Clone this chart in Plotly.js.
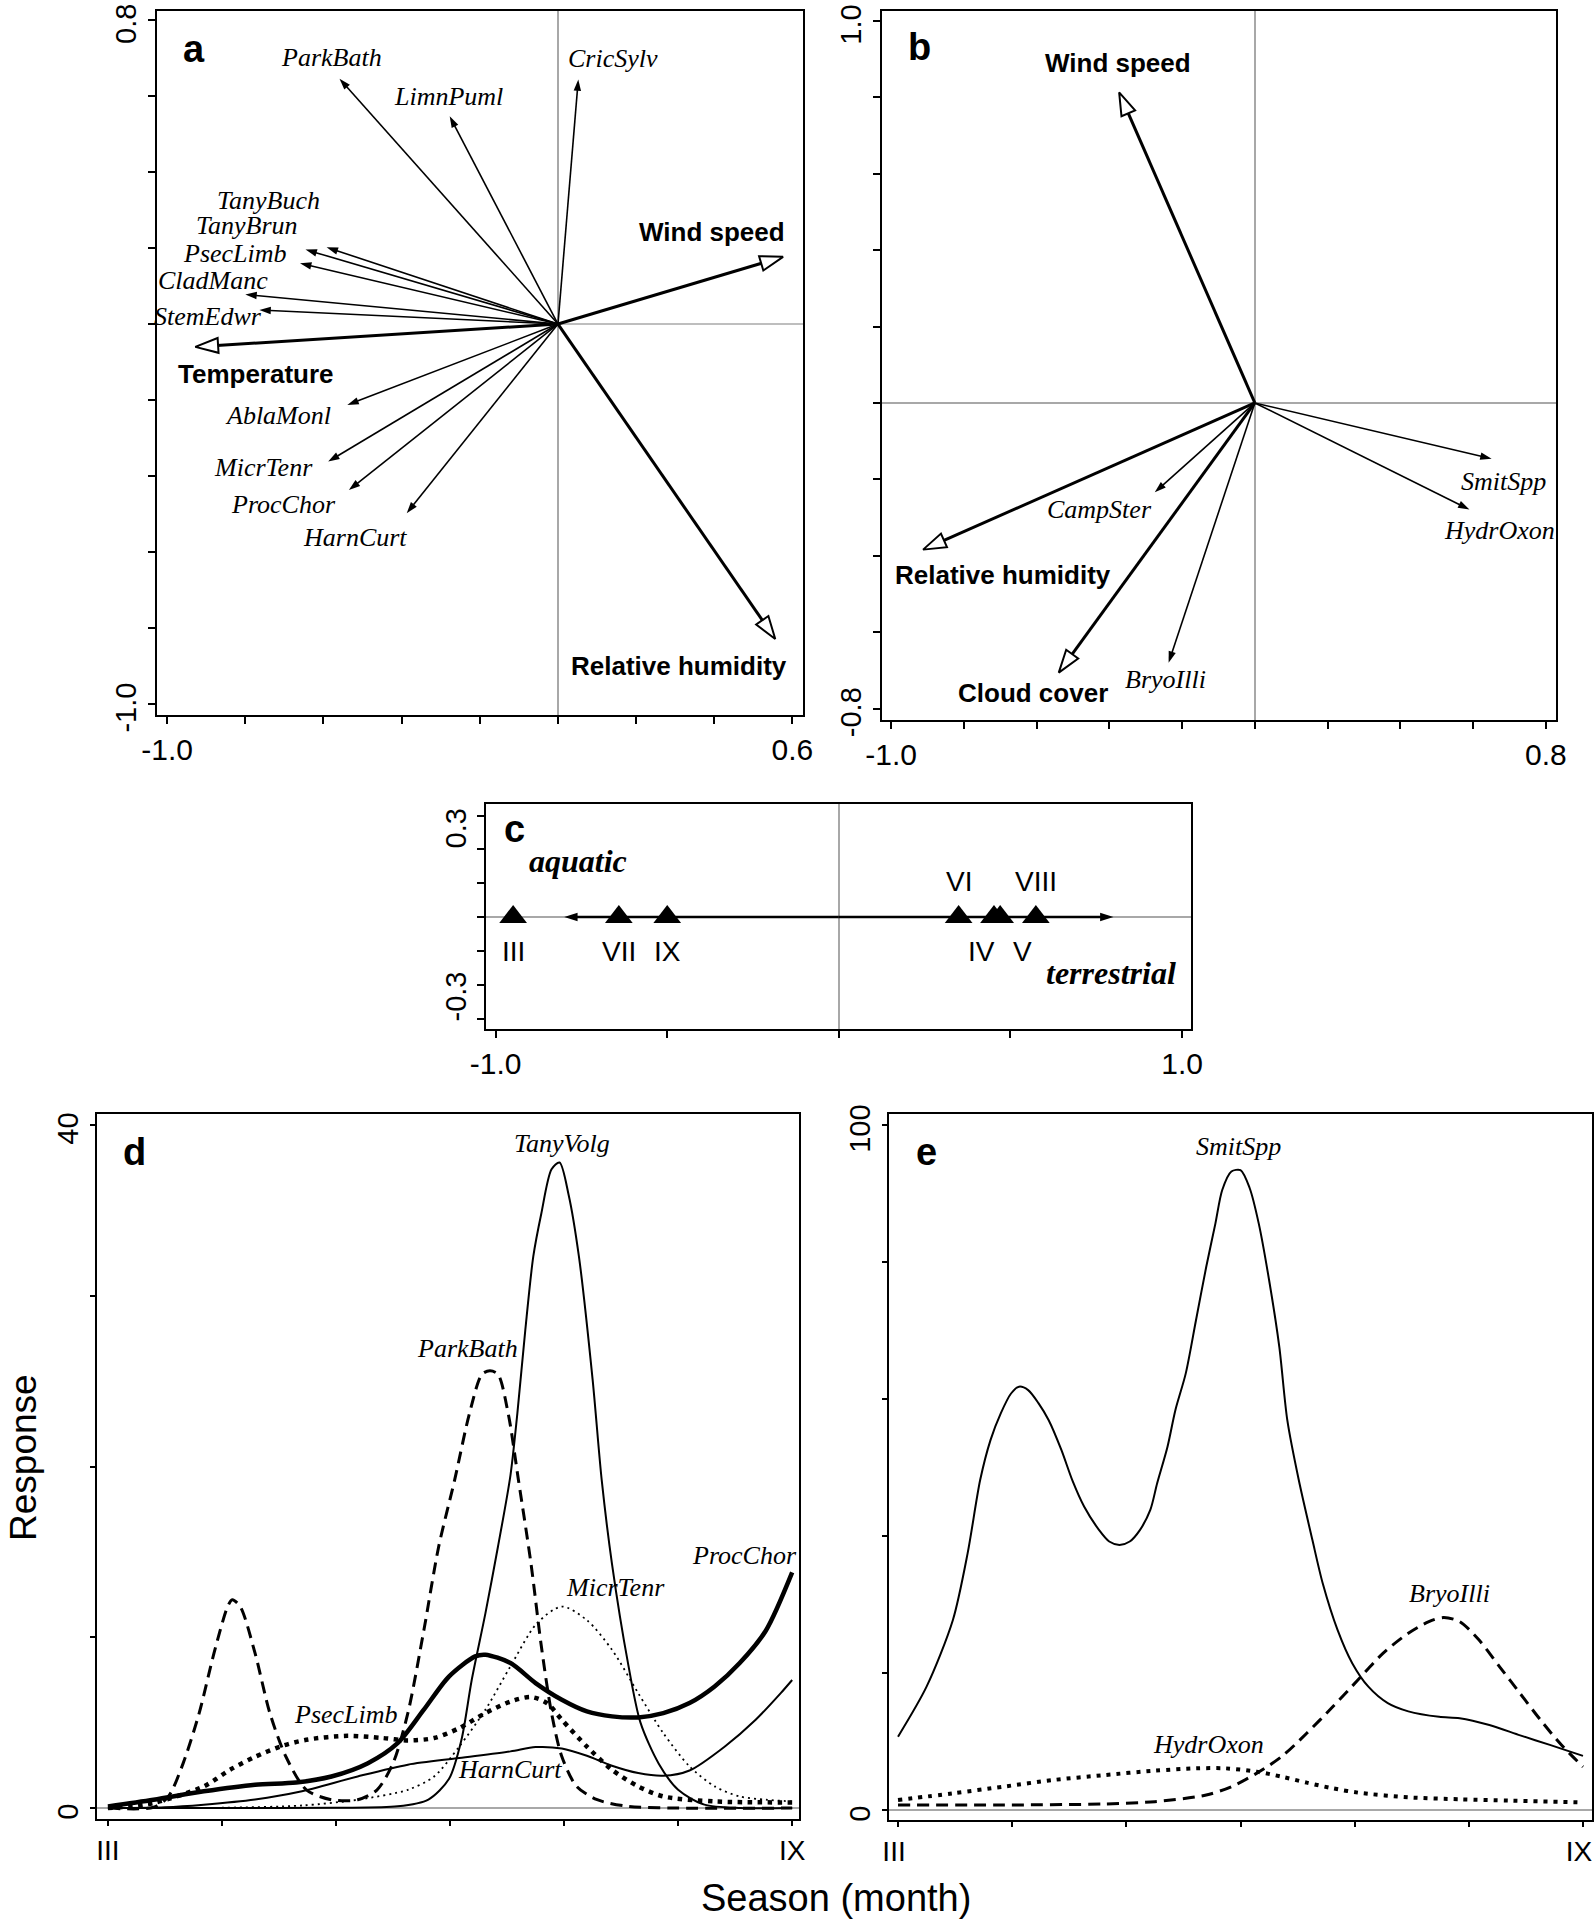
<!DOCTYPE html>
<html><head><meta charset="utf-8">
<script src="https://cdn.plot.ly/plotly-3.0.1.min.js"></script>
<style>html,body{margin:0;padding:0;background:#fff;}#chart{width:1595px;height:1924px;}</style>
</head><body><div id="chart"></div>
<script>
// ---------------- DATA ----------------
// Panel a: species and environmental biplot scores
const aSpecies  = ['ParkBath','LimnPuml','CricSylv','TanyBuch','TanyBrun','PsecLimb','CladManc','StemEdwr','AblaMonl','MicrTenr','ProcChor','HarnCurt'];
const aSpeciesX = [-0.559,-0.277,0.052,-0.592,-0.646,-0.660,-0.800,-0.764,-0.539,-0.588,-0.535,-0.387];
const aSpeciesY = [0.646,0.547,0.644,0.202,0.196,0.160,0.078,0.037,-0.213,-0.362,-0.437,-0.498];
const aEnv  = ['Wind speed','Temperature','Relative humidity'];
const aEnvX = [0.576,-0.928,0.556];
const aEnvY = [0.177,-0.060,-0.829];

// Panel b
const bSpecies  = ['CampSter','BryoIlli','SmitSpp','HydrOxon'];
const bSpeciesX = [-0.275,-0.237,0.651,0.590];
const bSpeciesY = [-0.234,-0.680,-0.146,-0.279];
const bEnv  = ['Wind speed','Relative humidity','Cloud cover'];
const bEnvX = [-0.373,-0.912,-0.539];
const bEnvY = [0.813,-0.384,-0.706];

// Panel c: sample (month) scores on the single axis
const cMonths = ['III','VII','IX','VI','IV','V','VIII'];
const cScores = [-0.949,-0.641,-0.500,0.349,0.452,0.470,0.574];
const cGradientEnds   = [-0.8, 0.8];
const cGradientLabels = ['aquatic','terrestrial'];

// Panel d: response curves over season (month number 3..9)
const dTanyVolgX = [3.0,4.0,5.0,5.54,5.81,5.99,6.10,6.19,6.31,6.42,6.53,6.59,6.66,6.73,6.80,6.89,6.96,7.04,7.13,7.25,7.33,7.42,7.56,7.67,7.83,8.00,8.23,8.55,9.0];
const dTanyVolgY = [0,0,0.02,0.1,0.5,1.7,4.0,7.5,11.4,15.3,19.5,23.1,28.0,32.3,34.8,37.4,37.8,35.9,32.3,25.1,19.2,14.3,8.5,5.0,2.6,1.07,0.2,0,0];
const dParkBathX = [3.0,3.4,3.53,3.66,3.80,3.93,4.05,4.09,4.16,4.29,4.42,4.56,4.74,4.96,5.19,5.36,5.50,5.63,5.77,5.90,6.04,6.17,6.28,6.35,6.42,6.51,6.60,6.71,6.80,6.89,6.98,7.11,7.29,7.56,8.0,9.0];
const dParkBathY = [0,0.05,0.68,2.63,5.56,9.07,11.8,12.2,11.8,9.07,5.56,3.02,1.07,0.49,0.49,1.07,2.63,5.56,10.4,15.3,19.2,23.1,25.4,25.6,25.4,23.1,19.2,14.3,9.5,5.56,3.02,1.27,0.49,0.1,0,0];
const dProcChorX = [3.0,3.4,3.84,4.29,4.65,4.96,5.28,5.54,5.77,5.99,6.22,6.31,6.53,6.75,6.98,7.20,7.42,7.65,7.87,8.10,8.32,8.54,8.77,9.0];
const dProcChorY = [0.1,0.49,0.98,1.37,1.5,1.85,2.63,3.8,5.76,7.7,8.88,8.98,8.49,7.32,6.34,5.66,5.37,5.31,5.56,6.15,7.12,8.49,10.4,13.8];
const dHarnCurtX = [3.0,3.5,3.84,4.29,4.68,5.19,5.63,6.08,6.53,6.75,6.98,7.20,7.42,7.65,7.87,8.10,8.41,8.68,8.90,9.0];
const dHarnCurtY = [0,0.05,0.2,0.5,0.95,1.85,2.54,2.93,3.32,3.57,3.49,3.06,2.48,2.05,1.89,2.2,3.61,5.17,6.73,7.5];
const dMicrTenrX = [3.0,4.0,4.7,5.19,5.63,5.86,6.08,6.31,6.53,6.76,6.98,7.20,7.42,7.65,7.87,8.10,8.32,8.54,8.77,9.0];
const dMicrTenrY = [0,0.02,0.15,0.49,1.07,1.85,3.6,5.76,8.3,10.8,11.8,11.0,9.27,6.73,4.39,2.44,1.27,0.68,0.49,0.39];
const dPsecLimbX = [3.0,3.4,3.84,4.07,4.29,4.51,4.74,5.10,5.41,5.63,5.86,6.08,6.31,6.53,6.71,6.85,6.98,7.20,7.42,7.65,7.87,8.32,9.0];
const dPsecLimbY = [0,0.3,1.27,2.24,3.0,3.6,4.0,4.23,4.1,3.96,4.1,4.68,5.56,6.24,6.5,6.15,5.17,3.6,2.24,1.27,0.68,0.39,0.33];

// Panel e
const eSmitSppX = [3.0,3.25,3.48,3.61,3.72,3.81,3.90,3.99,4.06,4.14,4.23,4.32,4.43,4.53,4.63,4.76,4.85,4.94,5.03,5.12,5.21,5.27,5.36,5.43,5.52,5.61,5.70,5.78,5.84,5.92,6.00,6.08,6.16,6.25,6.34,6.41,6.51,6.63,6.72,6.85,6.98,7.12,7.29,7.47,7.74,7.92,8.18,8.45,8.71,9.0];
const eSmitSppY = [10.7,18.0,27.7,37.5,48.2,54.0,57.9,60.8,61.8,61.3,59.4,56.9,52.6,48.0,44.3,40.9,39.2,38.7,39.2,40.9,43.8,47.7,53.0,58.4,63.7,71.5,79.3,85.6,90.5,93.2,93.4,90.8,85.6,77.4,67.6,56.9,48.2,39.4,33.1,26.3,21.4,18.0,15.6,14.4,13.6,13.4,12.4,10.9,9.5,7.9];
const eBryoIlliX = [3.0,3.92,4.81,5.25,5.70,5.92,6.14,6.36,6.58,6.81,7.03,7.25,7.47,7.65,7.78,7.92,8.09,8.27,8.45,8.63,8.80,9.0];
const eBryoIlliY = [0.73,0.73,0.88,1.22,2.19,3.4,5.35,7.79,11.2,15.1,19.0,22.9,25.8,27.5,28.1,27.5,24.8,20.9,17.0,13.1,9.7,6.3];
const eHydrOxonX = [3.0,3.48,3.92,4.36,4.81,5.25,5.61,5.87,6.14,6.36,6.58,6.81,7.03,7.47,7.92,8.36,9.0];
const eHydrOxonY = [1.46,2.43,3.4,4.38,5.1,5.74,6.08,6.08,5.6,4.87,3.99,3.16,2.53,1.85,1.56,1.36,1.1];

// Tick values / labels
const aXTicks = [-1.0,-0.8,-0.6,-0.4,-0.2,0,0.2,0.4,0.6];
const aXTickText = ['-1.0','','','','','','','','0.6'];
const aYTicks = [-1.0,-0.8,-0.6,-0.4,-0.2,0,0.2,0.4,0.6,0.8];
const aYTickText = ['-1.0','','','','','','','','','0.8'];
const bXTicks = [-1.0,-0.8,-0.6,-0.4,-0.2,0,0.2,0.4,0.6,0.8];
const bXTickText = ['-1.0','','','','','','','','','0.8'];
const bYTicks = [-0.8,-0.6,-0.4,-0.2,0,0.2,0.4,0.6,0.8,1.0];
const bYTickText = ['-0.8','','','','','','','','','1.0'];
const cXTicks = [-1.0,-0.5,0,0.5,1.0];
const cXTickText = ['-1.0','','','','1.0'];
const cYTicks = [-0.3,-0.2,-0.1,0,0.1,0.2,0.3];
const cYTickText = ['-0.3','','','','','','0.3'];
const monthTicks = [3,4,5,6,7,8,9];
const monthTickText = ['III','','','','','','IX'];
const dYTicks = [0,10,20,30,40];
const dYTickText = ['0','','','','40'];
const eYTicks = [0,20,40,60,80,100];
const eYTickText = ['0','','','','','100'];

// ---------------- LAYOUT / STYLE ----------------
const W = 1595, H = 1924;
const SANS = 'Liberation Sans, Arial, Helvetica, sans-serif';
const SERIF = 'Liberation Serif, Times New Roman, Times, serif';
// plot frames in page pixels [left, right, top, bottom]
const FR = {a:[157,803,11,715], b:[882,1556,11,720], c:[486,1191,804,1029], d:[97,799,1114,1819], e:[889,1592,1114,1820]};
const RANGE = {
  a:{x:[-1.026,0.627], y:[-1.029,0.824]},
  b:{x:[-1.025,0.828], y:[-0.830,1.026]},
  c:{x:[-1.028,1.026], y:[-0.331,0.334]},
  d:{x:[2.904,9.06],   y:[-0.64,40.64]},
  e:{x:[2.921,9.079],  y:[-1.46,101.6]}
};
// label offsets (pixels) from arrow tips
const aSpeciesShift = [[-8,21],[-1,20],[35,21],[-58,47],[-59,24],[-65,10],[-32,14],[-51,-7],[-69,-11],[-65,-6],[-65,-14],[-52,-24]];
const aEnvShift = [[-71,25],[61,-27],[-96,-27]];
const bSpeciesShift = [[-55,-17],[-3,-17],[12,-23],[30,-21]];
const bEnvShift = [[-1,29],[80,-25],[-26,-20]];
const cMonthShift = [[0,-34],[0,-34],[0,-34],[0,36],[-12,-34],[22,-34],[0,36]];
const cGradientShift = [[14,56],[-2,-56]];
const cYLabelShift = {'-0.3':22, '0.3':-13};
const dCurveLabels = [
  {t:'TanyVolg', x:6.98, y:38.9}, {t:'ParkBath', x:6.15, y:26.9}, {t:'MicrTenr', x:7.45, y:12.9},
  {t:'ProcChor', x:8.58, y:14.8}, {t:'PsecLimb', x:5.09, y:5.46}, {t:'HarnCurt', x:6.53, y:2.24}
];
const eCurveLabels = [
  {t:'SmitSpp', x:5.98, y:96.8}, {t:'BryoIlli', x:7.83, y:31.6}, {t:'HydrOxon', x:5.72, y:9.5}
];

function xd(f){return [f[0]/W, f[1]/W];}
function yd(f){return [1-f[3]/H, 1-f[2]/H];}
function mkAxis(o){
  return Object.assign({
    showline:true, mirror:true, linecolor:'black', linewidth:2,
    ticks:'outside', ticklen:7, tickwidth:2, tickcolor:'black',
    tickfont:{family:SANS, size:30, color:'black'},
    showgrid:false, zeroline:false, zerolinecolor:'#a8a8a8', zerolinewidth:1.5,
    fixedrange:true, automargin:false, tickmode:'array', ticklabeloverflow:'allow', ticklabelstandoff:0
  }, o);
}
function mkYAxis(o){
  return mkAxis(Object.assign({tickangle:-90, ticklabelshift:8, tickfont:{family:SANS, size:29, color:'black'}}, o));
}

const traces = [];
const annotations = [];

function arrow(x, y, xa, ya, env){
  traces.push({
    type:'scatter', mode:'lines+markers', x:[0,x], y:[0,y], xaxis:xa, yaxis:ya,
    line:{color:'black', width: env ? 3 : 1.6},
    marker:{symbol:'arrow', angleref:'previous', size: env ? 24 : 12,
            color: env ? 'white' : 'black', line:{color:'black', width: env ? 2 : 0}},
    hoverinfo:'skip', showlegend:false, cliponaxis:false
  });
}
function label(text, x, y, xr, yr, shift, env){
  annotations.push({
    text: env ? '<b>'+text+'</b>' : '<i>'+text+'</i>',
    x:x, y:y, xref:xr, yref:yr, xshift:shift[0], yshift:shift[1],
    showarrow:false, xanchor:'center', yanchor:'middle',
    font: env ? {family:SANS, size:26, color:'black'} : {family:SERIF, size:26, color:'black'}
  });
}

// Panel a
aSpecies.forEach((s,i)=>{ arrow(aSpeciesX[i], aSpeciesY[i], 'x', 'y', false); label(s, aSpeciesX[i], aSpeciesY[i], 'x', 'y', aSpeciesShift[i], false); });
aEnv.forEach((s,i)=>{ arrow(aEnvX[i], aEnvY[i], 'x', 'y', true); label(s, aEnvX[i], aEnvY[i], 'x', 'y', aEnvShift[i], true); });
// Panel b
bSpecies.forEach((s,i)=>{ arrow(bSpeciesX[i], bSpeciesY[i], 'x2', 'y2', false); label(s, bSpeciesX[i], bSpeciesY[i], 'x2', 'y2', bSpeciesShift[i], false); });
bEnv.forEach((s,i)=>{ arrow(bEnvX[i], bEnvY[i], 'x2', 'y2', true); label(s, bEnvX[i], bEnvY[i], 'x2', 'y2', bEnvShift[i], true); });

// Panel c
cGradientEnds.forEach((g,i)=>{
  traces.push({type:'scatter', mode:'lines+markers', x:[0,g], y:[0,0], xaxis:'x3', yaxis:'y3',
    line:{color:'black', width:2.5},
    marker:{symbol:'arrow', angleref:'previous', size:14, color:'black'},
    hoverinfo:'skip', showlegend:false});
  annotations.push({text:'<b><i>'+cGradientLabels[i]+'</i></b>', x:g, y:0, xref:'x3', yref:'y3',
    xshift:cGradientShift[i][0], yshift:cGradientShift[i][1], showarrow:false,
    xanchor:'center', yanchor:'middle', font:{family:SERIF, size:32, color:'black'}});
});
traces.push({type:'scatter', mode:'markers', x:cScores, y:cScores.map(()=>0), xaxis:'x3', yaxis:'y3',
  marker:{symbol:'triangle-up', size:24, color:'black'}, hoverinfo:'skip', showlegend:false, cliponaxis:false});
cMonths.forEach((m,i)=>{
  annotations.push({text:m, x:cScores[i], y:0, xref:'x3', yref:'y3', xshift:cMonthShift[i][0], yshift:cMonthShift[i][1],
    showarrow:false, xanchor:'center', yanchor:'middle', font:{family:SANS, size:28, color:'black'}});
});
// c y-axis end labels (drawn as text beside the axis, nudged inward as in the source figure)
cYTicks.forEach((v,i)=>{
  const t = cYTickText[i];
  if(!t) return;
  annotations.push({text:t, x:0, y:v, xref:'x3 domain', yref:'y3', xshift:-30, yshift:cYLabelShift[t],
    textangle:-90, showarrow:false, xanchor:'center', yanchor:'middle', font:{family:SANS, size:29, color:'black'}});
});

// Panel d / e curves
function curve(x, y, xa, ya, width, dash){
  traces.push({type:'scatter', mode:'lines', x:x, y:y, xaxis:xa, yaxis:ya,
    line:{color:'black', width:width, dash:dash, shape:'spline', smoothing:0.8},
    hoverinfo:'skip', showlegend:false});
}
curve(dHarnCurtX, dHarnCurtY, 'x4','y4', 2, 'solid');
curve(dMicrTenrX, dMicrTenrY, 'x4','y4', 1.8, '2px,4px');
curve(dPsecLimbX, dPsecLimbY, 'x4','y4', 4.5, '4.5px,5.5px');
curve(dParkBathX, dParkBathY, 'x4','y4', 3, '12px,7px');
curve(dTanyVolgX, dTanyVolgY, 'x4','y4', 2, 'solid');
curve(dProcChorX, dProcChorY, 'x4','y4', 4.5, 'solid');
dCurveLabels.forEach(l=>annotations.push({text:'<i>'+l.t+'</i>', x:l.x, y:l.y, xref:'x4', yref:'y4', showarrow:false,
  xanchor:'center', yanchor:'middle', font:{family:SERIF, size:26, color:'black'}}));

curve(eHydrOxonX, eHydrOxonY, 'x5','y5', 4, '4px,6px');
curve(eBryoIlliX, eBryoIlliY, 'x5','y5', 3, '12px,7px');
curve(eSmitSppX, eSmitSppY, 'x5','y5', 2, 'solid');
eCurveLabels.forEach(l=>annotations.push({text:'<i>'+l.t+'</i>', x:l.x, y:l.y, xref:'x5', yref:'y5', showarrow:false,
  xanchor:'center', yanchor:'middle', font:{family:SERIF, size:26, color:'black'}}));

// Panel letters
const panelLetters = [['a','x','y',0.057,0.946],['b','x2','y2',0.055,0.949],['c','x3','y3',0.040,0.889],['d','x4','y4',0.054,0.946],['e','x5','y5',0.054,0.946]];
panelLetters.forEach(p=>annotations.push({text:'<b>'+p[0]+'</b>', x:p[3], y:p[4], xref:p[1]+' domain', yref:p[2]+' domain',
  showarrow:false, xanchor:'center', yanchor:'middle', font:{family:SANS, size:38, color:'black'}}));

// Shared axis titles
annotations.push({text:'Response', x:23/W, y:1-1458/H, xref:'paper', yref:'paper', textangle:-90, showarrow:false,
  xanchor:'center', yanchor:'middle', font:{family:SANS, size:37, color:'black'}});
annotations.push({text:'Season (month)', x:836/W, y:1-1898/H, xref:'paper', yref:'paper', showarrow:false,
  xanchor:'center', yanchor:'middle', font:{family:SANS, size:38, color:'black'}});

const monthFont = {family:SANS, size:28, color:'black'};
const layout = {
  width:W, height:H, margin:{l:0,r:0,t:0,b:0}, paper_bgcolor:'white', plot_bgcolor:'white', showlegend:false,
  xaxis: mkAxis({domain:xd(FR.a), range:RANGE.a.x, anchor:'y', tickvals:aXTicks, ticktext:aXTickText, zeroline:true}),
  yaxis: mkYAxis({domain:yd(FR.a), range:RANGE.a.y, anchor:'x', tickvals:aYTicks, ticktext:aYTickText}),
  xaxis2: mkAxis({domain:xd(FR.b), range:RANGE.b.x, anchor:'y2', tickvals:bXTicks, ticktext:bXTickText, zeroline:true}),
  yaxis2: mkYAxis({domain:yd(FR.b), range:RANGE.b.y, anchor:'x2', tickvals:bYTicks, ticktext:bYTickText, zeroline:true}),
  xaxis3: mkAxis({domain:xd(FR.c), range:RANGE.c.x, anchor:'y3', tickvals:cXTicks, ticktext:cXTickText, zeroline:true}),
  yaxis3: mkYAxis({domain:yd(FR.c), range:RANGE.c.y, anchor:'x3', tickvals:cYTicks, ticktext:cYTicks.map(()=>''), zeroline:true}),
  xaxis4: mkAxis({domain:xd(FR.d), range:RANGE.d.x, anchor:'y4', tickvals:monthTicks, ticktext:monthTickText, ticklen:5, tickfont:monthFont}),
  yaxis4: mkYAxis({domain:yd(FR.d), range:RANGE.d.y, anchor:'x4', tickvals:dYTicks, ticktext:dYTickText, zeroline:true, ticklen:5}),
  xaxis5: mkAxis({domain:xd(FR.e), range:RANGE.e.x, anchor:'y5', tickvals:monthTicks, ticktext:monthTickText, ticklen:5, tickfont:monthFont, ticklabelshift:-4}),
  yaxis5: mkYAxis({domain:yd(FR.e), range:RANGE.e.y, anchor:'x5', tickvals:eYTicks, ticktext:eYTickText, zeroline:true, ticklen:5}),
  shapes:[{type:'line', xref:'x', yref:'y', x0:0, x1:RANGE.a.x[1], y0:0, y1:0, layer:'below', line:{color:'#a8a8a8', width:1.5}}],
  annotations: annotations
};

Plotly.newPlot('chart', traces, layout, {staticPlot:true, displayModeBar:false});
</script></body></html>
